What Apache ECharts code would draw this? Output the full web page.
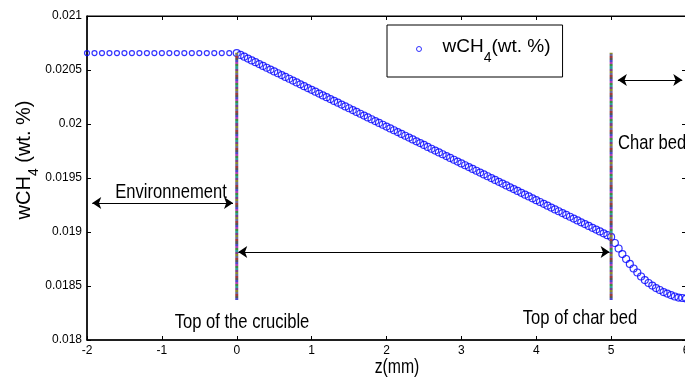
<!DOCTYPE html>
<html>
<head>
<meta charset="utf-8">
<script src="https://cdn.jsdelivr.net/npm/echarts@6/dist/echarts.min.js"></script>
<style>
  html, body { margin: 0; padding: 0; background: #fff; }
  #chart { width: 685px; height: 387px; }
</style>
</head>
<body>
<div id="chart"></div>
<script>
// wCH4 (wt %) against z (mm)
const envPoints = [
  [-2, 0.020657], [-1.9, 0.020657], [-1.8, 0.020657], [-1.7, 0.020657], [-1.6, 0.020657],
  [-1.5, 0.020657], [-1.4, 0.020657], [-1.3, 0.020657], [-1.2, 0.020657], [-1.1, 0.020657],
  [-1, 0.020657], [-0.9, 0.020657], [-0.8, 0.020657], [-0.7, 0.020657], [-0.6, 0.020657],
  [-0.5, 0.020657], [-0.4, 0.020657], [-0.3, 0.020657], [-0.2, 0.020657], [-0.1, 0.020657]
];
const cruciblePoints = [
  [0, 0.020657], [0.05, 0.020640], [0.1, 0.020623], [0.15, 0.020606], [0.2, 0.020589],
  [0.25, 0.020572], [0.3, 0.020555], [0.35, 0.020538], [0.4, 0.020521], [0.45, 0.020504],
  [0.5, 0.020487], [0.55, 0.020470], [0.6, 0.020453], [0.65, 0.020436], [0.7, 0.020419],
  [0.75, 0.020402], [0.8, 0.020385], [0.85, 0.020367], [0.9, 0.020350], [0.95, 0.020333],
  [1, 0.020316], [1.05, 0.020299], [1.1, 0.020282], [1.15, 0.020265], [1.2, 0.020248],
  [1.25, 0.020231], [1.3, 0.020214], [1.35, 0.020197], [1.4, 0.020180], [1.45, 0.020163],
  [1.5, 0.020146], [1.55, 0.020129], [1.6, 0.020112], [1.65, 0.020095], [1.7, 0.020078],
  [1.75, 0.020061], [1.8, 0.020044], [1.85, 0.020027], [1.9, 0.020010], [1.95, 0.019993],
  [2, 0.019976], [2.05, 0.019959], [2.1, 0.019942], [2.15, 0.019925], [2.2, 0.019908],
  [2.25, 0.019891], [2.3, 0.019874], [2.35, 0.019857], [2.4, 0.019840], [2.45, 0.019823],
  [2.5, 0.019806], [2.55, 0.019788], [2.6, 0.019771], [2.65, 0.019754], [2.7, 0.019737],
  [2.75, 0.019720], [2.8, 0.019703], [2.85, 0.019686], [2.9, 0.019669], [2.95, 0.019652],
  [3, 0.019635], [3.05, 0.019618], [3.1, 0.019601], [3.15, 0.019584], [3.2, 0.019567],
  [3.25, 0.019550], [3.3, 0.019533], [3.35, 0.019516], [3.4, 0.019499], [3.45, 0.019482],
  [3.5, 0.019465], [3.55, 0.019448], [3.6, 0.019431], [3.65, 0.019414], [3.7, 0.019397],
  [3.75, 0.019380], [3.8, 0.019363], [3.85, 0.019346], [3.9, 0.019329], [3.95, 0.019312],
  [4, 0.019295], [4.05, 0.019278], [4.1, 0.019261], [4.15, 0.019244], [4.2, 0.019226],
  [4.25, 0.019209], [4.3, 0.019192], [4.35, 0.019175], [4.4, 0.019158], [4.45, 0.019141],
  [4.5, 0.019124], [4.55, 0.019107], [4.6, 0.019090], [4.65, 0.019073], [4.7, 0.019056],
  [4.75, 0.019039], [4.8, 0.019022], [4.85, 0.019005], [4.9, 0.018988], [4.95, 0.018971],
  [5, 0.018954]
];
const charBedPoints = [
  [5.05, 0.018898], [5.1, 0.018847], [5.15, 0.018796], [5.2, 0.018750], [5.25, 0.018704],
  [5.3, 0.018662], [5.35, 0.018625], [5.4, 0.018588], [5.45, 0.018555], [5.5, 0.018528],
  [5.55, 0.018504], [5.6, 0.018481], [5.65, 0.018463], [5.7, 0.018444], [5.75, 0.018430],
  [5.8, 0.018416], [5.85, 0.018403], [5.9, 0.018393], [5.95, 0.018389], [6, 0.018384]
];
// boundaries (top of crucible, top of char bed) and their vertical extent
const boundaryZ = [0, 5];
const boundaryW = [0.01837, 0.02066];
// double arrows: [z from, z to, w]
const arrows = [
  [-1.93, -0.05, 0.019268],
  [0.02, 4.98, 0.018815],
  [5.09, 5.95, 0.020407]
];

const sans = '"Liberation Sans", Arial, sans-serif';
const squeeze = 0.79; // the figure's annotation text is very condensed

// multicoloured dotted look of the boundary markers
function stripes(n) {
  const pal = ['#7a3f86', '#3f8a3f', '#4a4ac8', '#a03a3a', '#8a8a2a', '#2f9a9a', '#b040b0', '#555555', '#6a6a9a'];
  const stops = [];
  for (let i = 0; i < n; i++) {
    const c = pal[(i * 4) % pal.length];
    stops.push({ offset: i / n, color: c }, { offset: (i + 1) / n, color: c });
  }
  return { type: 'linear', x: 0, y: 0, x2: 0, y2: 1, colorStops: stops };
}

function note(text, x, y, align, size) {
  return {
    type: 'text', x, y, scaleX: squeeze,
    style: { text, font: (size || 21) + 'px ' + sans, fill: '#000', align: align || 'center', verticalAlign: 'middle' }
  };
}

const chart = echarts.init(document.getElementById('chart'));

const tickStyle = { inside: true, length: 4, lineStyle: { color: '#000' } };

const options = {
  animation: false,
  grid: {
    left: 87, top: 16, bottom: 47, right: -1,
    outerBoundsMode: 'none',
    show: true, borderColor: '#000', borderWidth: 1
  },
  legend: {
    data: ['wCH4'],
    left: 387,
    top: 25,
    orient: 'horizontal',
    backgroundColor: '#fff',
    borderColor: '#000',
    borderWidth: 1,
    borderRadius: 0,
    padding: [12, 12, 12, 29],
    itemWidth: 5,
    itemHeight: 5,
    itemStyle: { borderWidth: 1 },
    formatter() {
      return '{g|}{t|wCH}{s|4}{t|(wt. %)}';
    },
    textStyle: {
      rich: {
        g: { width: 16 },
        t: { fontFamily: sans, fontSize: 19, color: '#000', lineHeight: 24, verticalAlign: 'top' },
        s: { fontFamily: sans, fontSize: 14, color: '#000', lineHeight: 14, padding: [14, 0, 0, 0], verticalAlign: 'top' }
      }
    }
  },
  xAxis: [{
    type: 'value', min: -2, max: 6, interval: 1, position: 'bottom',
    axisLine: { onZero: false, lineStyle: { color: '#000', width: 1.5 } },
    axisTick: tickStyle,
    splitLine: { show: false },
    axisLabel: { color: '#000', fontSize: 12, fontFamily: sans, margin: 5 }
  }, {
    type: 'value', min: -2, max: 6, interval: 1, position: 'top',
    axisLine: { onZero: false, lineStyle: { color: '#000', width: 1 } },
    axisTick: tickStyle,
    splitLine: { show: false },
    axisLabel: { show: false }
  }],
  yAxis: [{
    type: 'value', min: 0.018, max: 0.021, interval: 0.0005, position: 'left',
    axisLine: { show: true, onZero: false, lineStyle: { color: '#000', width: 1.5 } },
    axisTick: tickStyle,
    splitLine: { show: false },
    axisLabel: {
      color: '#000', fontSize: 12, fontFamily: sans, margin: 5,
      formatter(v) { return String(+v.toFixed(4)); }
    }
  }, {
    type: 'value', min: 0.018, max: 0.021, interval: 0.0005, position: 'right',
    axisLine: { show: true, onZero: false, lineStyle: { color: '#000', width: 1 } },
    axisTick: tickStyle,
    splitLine: { show: false },
    axisLabel: { show: false }
  }],
  series: [{
    name: 'wCH4',
    type: 'scatter',
    symbol: 'circle',
    // the sparse environment points are drawn smaller than the dense band
    symbolSize(d) { return d[0] < 0 ? 5 : 7; },
    itemStyle: { color: 'rgba(0,0,0,0)', borderColor: '#0000ff', borderWidth: 1.2 },
    data: envPoints.concat(cruciblePoints, charBedPoints),
    markLine: {
      silent: true,
      symbol: ['arrow', 'arrow'],
      symbolSize: 9,
      label: { show: false },
      lineStyle: { color: '#000', width: 1, type: 'solid' },
      data: arrows.map(a => [{ coord: [a[0], a[2]] }, { coord: [a[1], a[2]] }])
    }
  }].concat(boundaryZ.map(z => ({
    type: 'line',
    silent: true,
    symbol: 'none',
    z: 5,
    lineStyle: { width: 3, color: stripes(124) },
    data: [[z, boundaryW[0]], [z, boundaryW[1]]]
  }))),
  graphic: [
    note('Environnement', 171, 192),
    note('Top of the crucible', 242, 322),
    note('Top of char bed', 580, 318),
    note('Char bed', 618, 143, 'left'),
    note('z(mm)', 397, 367, 'center', 20),
    {
      type: 'text', x: 25, y: 160, rotation: Math.PI / 2,
      style: {
        text: '{t|wCH}{s|4}{t| (wt. %)}',
        align: 'center', verticalAlign: 'middle',
        rich: {
          t: { fontFamily: sans, fontSize: 20, fill: '#000', lineHeight: 22, verticalAlign: 'top' },
          s: { fontFamily: sans, fontSize: 14, fill: '#000', lineHeight: 14, padding: [13, 0, 0, 0], verticalAlign: 'top' }
        }
      }
    }
  ]
};

chart.setOption(options);
</script>
</body>
</html>
